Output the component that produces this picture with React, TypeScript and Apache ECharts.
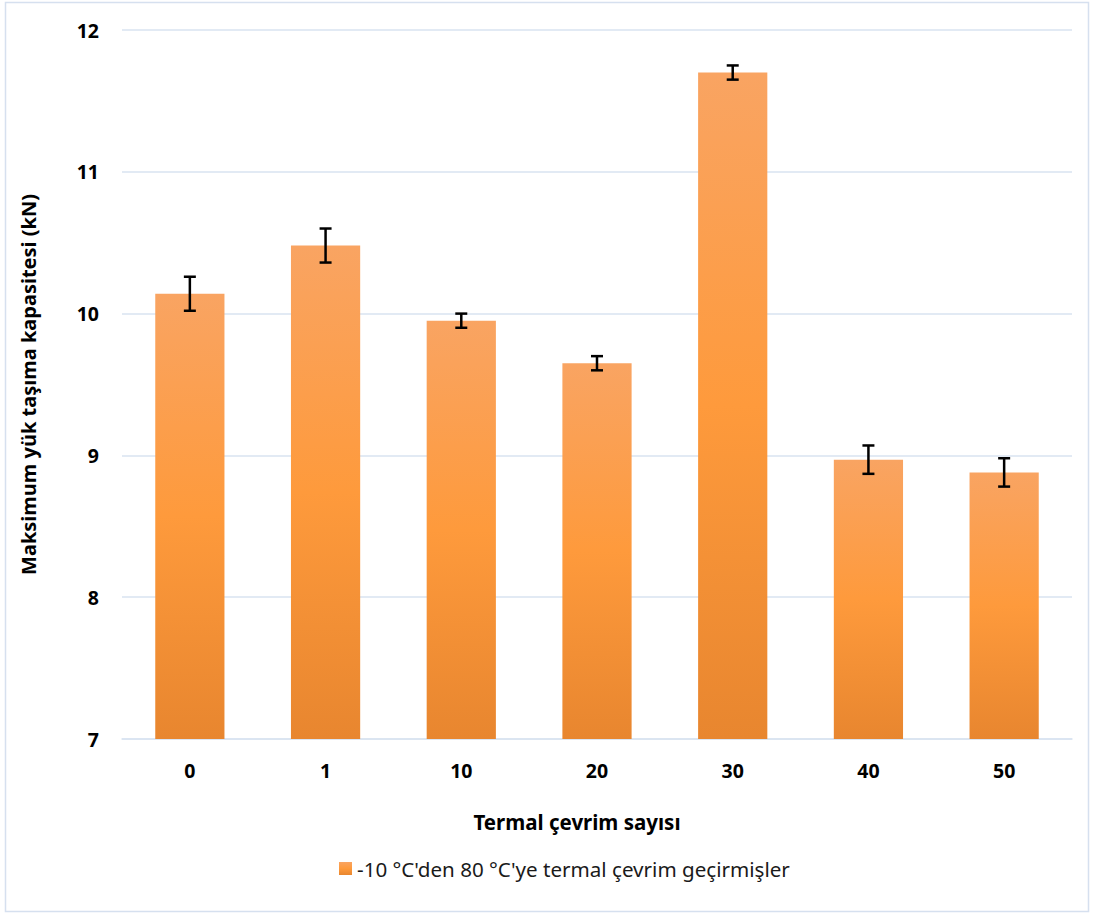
import React, { useEffect, useRef } from "react";
import * as echarts from "echarts";

const categories = ["0", "1", "10", "20", "30", "40", "50"];
const values = [10.14, 10.48, 9.95, 9.65, 11.70, 8.97, 8.88];
const errors = [0.12, 0.12, 0.05, 0.05, 0.05, 0.10, 0.10];
const yTicks = { min: 7, max: 12, interval: 1 };
const seriesName = "-10 °C'den 80 °C'ye termal çevrim geçirmişler";
const xName = "Termal çevrim sayısı";
const yName = "Maksimum yük taşıma kapasitesi (kN)";

export default function App() {
  const ref = useRef<HTMLDivElement>(null);
  useEffect(() => {
    if (!ref.current) return;
    const chart = echarts.init(ref.current, null, { renderer: "svg" });
    const font = "'Noto Sans', sans-serif";
    const gridColor = "#d9e3f1";
    const barGradient = new echarts.graphic.LinearGradient(0, 0, 0, 1, [
      { offset: 0, color: "#f9a462" },
      { offset: 0.5, color: "#fe9a3c" },
      { offset: 1, color: "#e8862f" },
    ]);
    const errData = values.map((v, i) => [i, v - errors[i], v + errors[i]]);
    chart.setOption({
      animation: false,
      backgroundColor: "#ffffff",
      textStyle: { fontFamily: font },
      graphic: [
        {
          type: "rect",
          shape: { x: 5.5, y: 2.5, width: 1083, height: 909 },
          style: { fill: "none", stroke: "#d6e0ef", lineWidth: 1.5 },
          silent: true,
        },
      ],
      grid: { left: 122, right: 21, top: 30, bottom: 176, containLabel: false },
      legend: {
        bottom: 31,
        left: 334,
        itemWidth: 13,
        itemHeight: 13,
        itemGap: 10,
        icon: "rect",
        data: [seriesName],
        textStyle: { fontSize: 20.6, color: "#1a1a1a", fontFamily: font },
      },
      xAxis: {
        type: "category",
        data: categories,
        name: xName,
        nameLocation: "middle",
        nameGap: 72,
        nameTextStyle: {
          fontSize: 20.5,
          fontWeight: "bold",
          color: "#000",
          fontFamily: font,
          padding: [0, 40, 0, 0],
        },
        axisLine: { show: true, lineStyle: { color: gridColor, width: 1.5 } },
        axisTick: { show: false },
        axisLabel: { fontSize: 19.5, fontWeight: "bold", color: "#000", margin: 21, fontFamily: font },
      },
      yAxis: {
        type: "value",
        min: yTicks.min,
        max: yTicks.max,
        interval: yTicks.interval,
        name: yName,
        nameLocation: "middle",
        nameGap: 84,
        nameTextStyle: { fontSize: 20, fontWeight: "bold", color: "#000", fontFamily: font },
        axisLine: { show: false },
        axisTick: { show: false },
        splitLine: { lineStyle: { color: gridColor, width: 1.5 } },
        axisLabel: { fontSize: 19.5, fontWeight: "bold", color: "#000", margin: 23, fontFamily: font },
      },
      series: [
        {
          name: seriesName,
          type: "bar",
          data: values,
          barWidth: "51%",
          itemStyle: { color: barGradient },
        },
        {
          type: "custom",
          data: errData,
          z: 10,
          renderItem: (params: any, api: any) => {
            const x = api.value(0);
            const lo = api.coord([x, api.value(1)]);
            const hi = api.coord([x, api.value(2)]);
            const cap = 6;
            const style = { stroke: "#000", lineWidth: 2.5 };
            return {
              type: "group",
              children: [
                { type: "line", shape: { x1: hi[0], y1: hi[1], x2: lo[0], y2: lo[1] }, style },
                { type: "line", shape: { x1: hi[0] - cap, y1: hi[1], x2: hi[0] + cap, y2: hi[1] }, style },
                { type: "line", shape: { x1: lo[0] - cap, y1: lo[1], x2: lo[0] + cap, y2: lo[1] }, style },
              ],
            };
          },
        },
      ],
    });
    return () => chart.dispose();
  }, []);
  return (
    <div
      ref={ref}
      style={{ position: "fixed", left: 0, top: 0, width: 1093, height: 915, background: "#fff" }}
    />
  );
}
